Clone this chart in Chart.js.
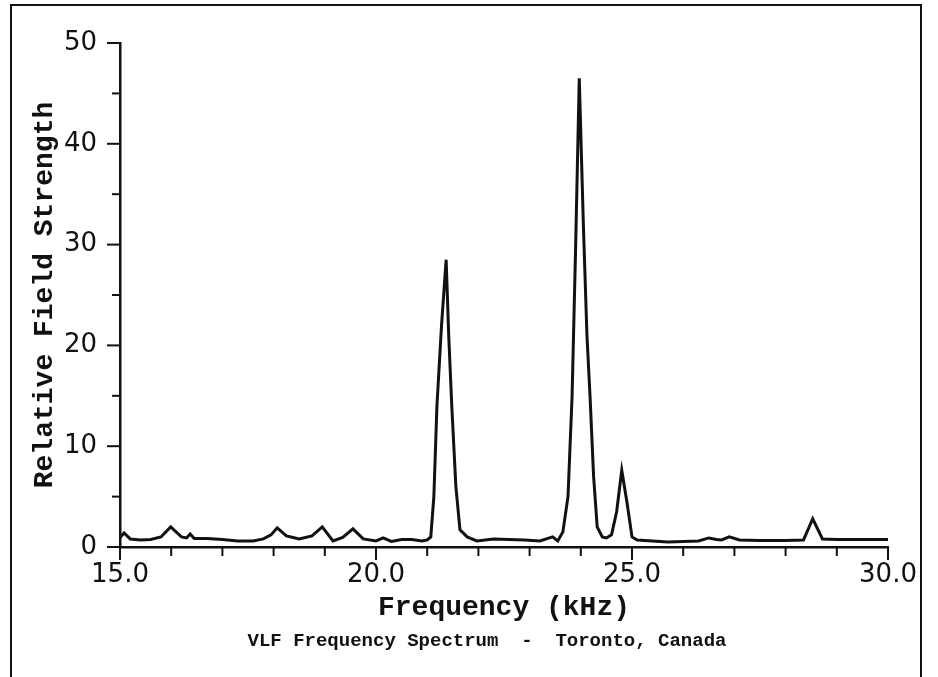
<!DOCTYPE html>
<html>
<head>
<meta charset="utf-8">
<title>VLF Frequency Spectrum - Toronto, Canada</title>
<script src="https://cdn.jsdelivr.net/npm/chart.js@4/dist/chart.umd.min.js"></script>
<style>
  html, body { margin: 0; padding: 0; background: #fff; }
  #wrap { width: 938px; height: 677px; }
</style>
</head>
<body>
<div id="wrap"><canvas id="spectrum" width="938" height="677"></canvas></div>
<script>
// -------------------------------
// Data
// -------------------------------
const freqKHz = [
  15.0, 15.08, 15.2, 15.4, 15.6, 15.8, 15.99, 16.2, 16.3, 16.37, 16.45, 16.7,
  17.0, 17.3, 17.6, 17.8, 17.95, 18.07, 18.25, 18.5, 18.75, 18.95, 19.16, 19.35,
  19.55, 19.75, 20.0, 20.14, 20.3, 20.5, 20.7, 20.9, 21.0, 21.07, 21.13, 21.19,
  21.28, 21.37, 21.42, 21.48, 21.56, 21.64, 21.78, 21.97, 22.3, 22.6, 22.9, 23.2,
  23.45, 23.55, 23.65, 23.75, 23.83, 23.9, 23.97, 24.05, 24.12, 24.18, 24.25, 24.32,
  24.42, 24.5, 24.6, 24.7, 24.8, 24.9, 25.0, 25.1, 25.4, 25.7, 26.0, 26.3,
  26.5, 26.65, 26.75, 26.9, 27.1, 27.5, 28.0, 28.35, 28.53, 28.72, 29.0, 29.5, 30.0
];
const fieldStrength = [
  0.9, 1.4, 0.8, 0.7, 0.75, 1.0, 2.0, 1.0, 0.9, 1.3, 0.85, 0.85,
  0.75, 0.6, 0.6, 0.8, 1.2, 1.9, 1.1, 0.8, 1.1, 2.0, 0.6, 0.95,
  1.8, 0.8, 0.6, 0.9, 0.55, 0.75, 0.75, 0.6, 0.7, 1.0, 5.0, 14.0,
  22.0, 28.5, 21.0, 14.0, 6.0, 1.7, 1.0, 0.6, 0.8, 0.75, 0.7, 0.6,
  1.0, 0.6, 1.5, 5.0, 15.0, 30.0, 46.5, 32.0, 21.0, 15.0, 7.0, 2.0,
  1.0, 0.9, 1.2, 3.5, 7.6, 4.5, 1.0, 0.7, 0.6, 0.5, 0.55, 0.6,
  0.9, 0.75, 0.7, 1.0, 0.7, 0.65, 0.65, 0.7, 2.8, 0.8, 0.75, 0.75, 0.75
];
const xMajorTicks = [15, 20, 25, 30];
const yMajorTicks = [0, 10, 20, 30, 40, 50];
const caption = "VLF Frequency Spectrum  -  Toronto, Canada";

const INK = "#111";

// -------------------------------
// Tick marks (major longer than minor), caption + frame
// -------------------------------
const tickMarks = {
  id: "tickMarks",
  beforeDraw(chart) {
    const ctx = chart.ctx;
    ctx.save();
    ctx.fillStyle = "#fff";
    ctx.fillRect(0, 0, chart.width, chart.height);
    ctx.restore();
  },
  afterDraw(chart) {
    const { ctx, chartArea } = chart;
    const x = chart.scales.x;
    const y = chart.scales.y;
    ctx.save();
    ctx.strokeStyle = INK;
    ctx.lineWidth = 2;
    x.ticks.forEach((t) => {
      const px = x.getPixelForValue(t.value);
      const len = xMajorTicks.includes(t.value) ? 13 : 9;
      ctx.beginPath();
      ctx.moveTo(px, chartArea.bottom);
      ctx.lineTo(px, chartArea.bottom + len);
      ctx.stroke();
    });
    y.ticks.forEach((t) => {
      const py = y.getPixelForValue(t.value);
      const len = yMajorTicks.includes(t.value) ? 13 : 8;
      ctx.beginPath();
      ctx.moveTo(chartArea.left - len, py);
      ctx.lineTo(chartArea.left, py);
      ctx.stroke();
    });

    // caption under the axis title
    ctx.fillStyle = INK;
    ctx.font = "bold 19px 'Liberation Mono'";
    ctx.textAlign = "center";
    ctx.textBaseline = "middle";
    ctx.fillText(caption, 487, 641);

    // outer frame of the figure
    ctx.lineWidth = 2;
    ctx.strokeRect(11, 5, 910, 700);
    ctx.restore();
  },
};

new Chart(document.getElementById("spectrum"), {
  type: "line",
  data: {
    datasets: [
      {
        label: "Relative Field Strength",
        data: freqKHz.map((f, i) => ({ x: f, y: fieldStrength[i] })),
        borderColor: INK,
        borderWidth: 3,
        pointRadius: 0,
        tension: 0,
        fill: false,
      },
    ],
  },
  options: {
    responsive: false,
    animation: false,
    layout: { padding: { left: 0, right: 50, top: 43, bottom: 52 } },
    plugins: {
      legend: { display: false },
      tooltip: { enabled: false },
    },
    scales: {
      x: {
        type: "linear",
        min: 15,
        max: 30,
        afterFit: (scale) => { scale.height = 78; },
        border: { display: true, color: INK, width: 2.5 },
        grid: { display: true, drawOnChartArea: false, drawTicks: false, color: "rgba(0,0,0,0)" },
        ticks: {
          stepSize: 1,
          autoSkip: false,
          maxRotation: 0,
          padding: 13,
          color: INK,
          font: { family: "DejaVu Sans", size: 26 },
          callback: (v) => (xMajorTicks.includes(v) ? v.toFixed(1) : ""),
        },
        title: {
          display: true,
          text: "Frequency (kHz)",
          color: INK,
          font: { family: "Liberation Mono", size: 28, weight: "bold" },
          padding: { top: 0, bottom: 0 },
        },
      },
      y: {
        min: 0,
        max: 50,
        afterFit: (scale) => { scale.width = 120; },
        border: { display: true, color: INK, width: 2.5 },
        grid: { display: true, drawOnChartArea: false, drawTicks: false, color: "rgba(0,0,0,0)" },
        ticks: {
          stepSize: 5,
          autoSkip: false,
          padding: 23,
          color: INK,
          font: { family: "DejaVu Sans", size: 26 },
          callback: (v) => (yMajorTicks.includes(v) ? String(v) : ""),
        },
        title: {
          display: true,
          text: "Relative Field Strength",
          color: INK,
          font: { family: "Liberation Mono", size: 28, weight: "bold" },
          padding: { top: 28, bottom: 0 },
        },
      },
    },
  },
  plugins: [tickMarks],
});
</script>
</body>
</html>
